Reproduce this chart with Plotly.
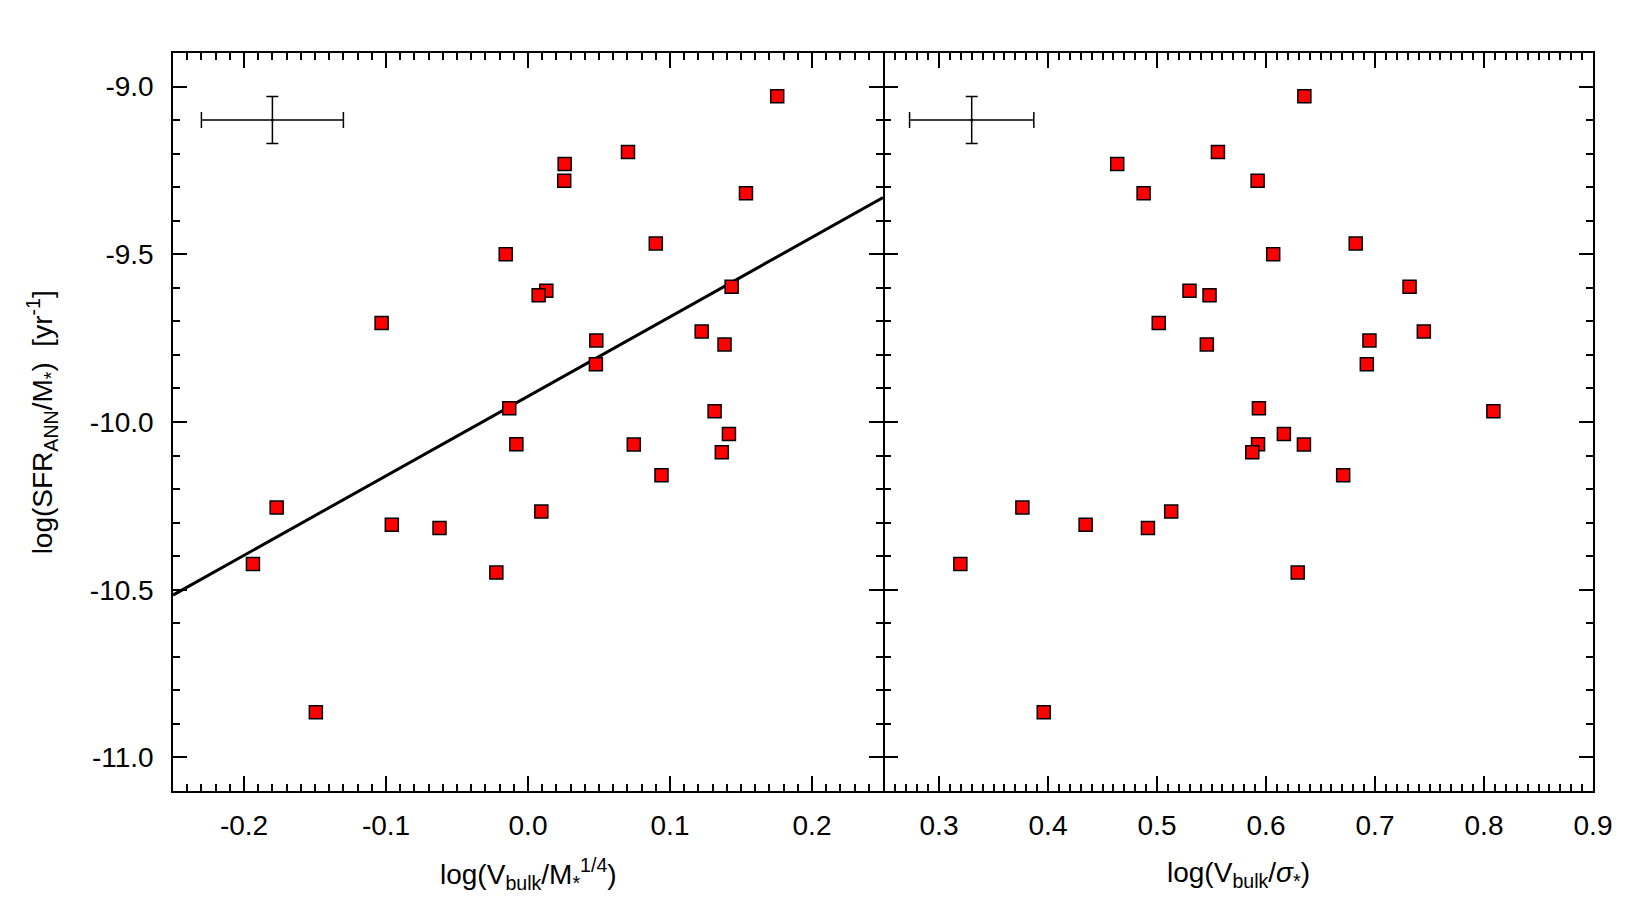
import plotly.graph_objects as go

# ---- data ----
ssfr = [-9.029, -9.195, -9.231, -9.281, -9.318, -9.468, -9.500, -9.609, -9.622, -9.597,
        -9.705, -9.730, -9.757, -9.769, -9.828, -9.959, -9.968, -10.036, -10.066, -10.067,
        -10.090, -10.159, -10.255, -10.267, -10.306, -10.316, -10.423, -10.449, -10.865]
x_mass = [0.1755, 0.0704, 0.0258, 0.0255, 0.1535, 0.0900, -0.0157, 0.0129, 0.0075, 0.1434,
          -0.1031, 0.1223, 0.0481, 0.1384, 0.0478, -0.0132, 0.1314, 0.1415, -0.0082, 0.0745,
          0.1365, 0.0940, -0.1770, 0.0094, -0.0959, -0.0623, -0.1937, -0.0223, -0.1494]
x_sigma = [0.6352, 0.5559, 0.4635, 0.5923, 0.4877, 0.6823, 0.6066, 0.5298, 0.5482, 0.7317,
           0.5016, 0.7448, 0.6949, 0.5457, 0.6925, 0.5935, 0.8086, 0.6164, 0.5927, 0.6348,
           0.5874, 0.6708, 0.3765, 0.5130, 0.4345, 0.4917, 0.3196, 0.6291, 0.3961]

# linear fit in left panel: y = intercept + slope * x
fit_slope = 2.37
fit_intercept = -9.9235
fit_xrange = [-0.25, 0.25]

# typical error bars
err_y_center = [-9.1]
err_x_left = [-0.18]
err_dx_left = [0.05]
err_x_right = [0.33]
err_dx_right = [0.057]
err_dy = [0.07]

y_tickvals = [-9.0, -9.5, -10.0, -10.5, -11.0]
y_ticktext = ["-9.0", "-9.5", "-10.0", "-10.5", "-11.0"]
xl_tickvals = [-0.2, -0.1, 0.0, 0.1, 0.2]
xl_ticktext = ["-0.2", "-0.1", "0.0", "0.1", "0.2"]
xr_tickvals = [0.3, 0.4, 0.5, 0.6, 0.7, 0.8, 0.9]
xr_ticktext = ["0.3", "0.4", "0.5", "0.6", "0.7", "0.8", "0.9"]

FONT = "Liberation Sans, Arial, Helvetica, sans-serif"
FS = 28

fig = go.Figure()

marker = dict(symbol="square", size=13, color="#ff0000", line=dict(color="black", width=1.5))

fit_y = [fit_intercept + fit_slope * v for v in fit_xrange]
fig.add_trace(go.Scatter(x=fit_xrange, y=fit_y, mode="lines",
                         line=dict(color="black", width=3), xaxis="x", yaxis="y",
                         showlegend=False, cliponaxis=True))

fig.add_trace(go.Scatter(x=x_mass, y=ssfr, mode="markers", marker=marker,
                         xaxis="x", yaxis="y", showlegend=False))
fig.add_trace(go.Scatter(x=x_sigma, y=ssfr, mode="markers", marker=marker,
                         xaxis="x2", yaxis="y2", showlegend=False))

for xa, ya, xc, dx in [("x", "y", err_x_left, err_dx_left), ("x2", "y2", err_x_right, err_dx_right)]:
    fig.add_trace(go.Scatter(
        x=xc, y=err_y_center, mode="markers",
        marker=dict(color="black", size=3),
        error_x=dict(type="data", array=dx, color="black", thickness=1.5, width=8),
        error_y=dict(type="data", array=err_dy, color="black", thickness=1.5, width=6),
        xaxis=xa, yaxis=ya, showlegend=False))

axis_common = dict(
    showline=True, linecolor="black", linewidth=1.5,
    mirror="allticks", ticks="inside", tickcolor="black", tickwidth=1.5,
    showgrid=False, zeroline=False,
    tickfont=dict(family=FONT, size=FS, color="black"),
    automargin=False,
)
minor_common = dict(ticklen=7, ticks="inside", tickcolor="black", tickwidth=1.5)

plot_w = 1650 - 165 - 65
gap = 1.5 / plot_w

fig.update_layout(
    width=1650, height=900,
    paper_bgcolor="white", plot_bgcolor="white",
    margin=dict(l=165, r=65, t=45, b=117),
    font=dict(family=FONT, color="black"),
    xaxis=dict(domain=[0, 0.5], range=[-0.25, 0.25], tickvals=xl_tickvals, ticktext=xl_ticktext,
               ticklen=15, minor=dict(dtick=0.01, **minor_common),
               ticklabelstandoff=9, anchor="y", **axis_common),
    xaxis2=dict(domain=[0.5 + gap, 1], range=[0.25, 0.9], tickvals=xr_tickvals, ticktext=xr_ticktext,
                ticklen=15, minor=dict(dtick=0.01, tick0=0.25, **minor_common),
                ticklabelstandoff=9, anchor="y2", **axis_common),
    yaxis=dict(domain=[0, 1], range=[-11.1, -8.9], tickvals=y_tickvals, ticktext=y_ticktext,
               ticklen=14, minor=dict(dtick=0.1, tick0=-11.0, **minor_common),
               ticklabelstandoff=12, anchor="x", **axis_common),
    yaxis2=dict(domain=[0, 1], range=[-11.1, -8.9], tickvals=y_tickvals, showticklabels=False,
                ticklen=14, minor=dict(dtick=0.1, tick0=-11.0, **minor_common),
                anchor="x2", matches="y", **axis_common),
    annotations=[
        dict(text="log(V<sub>bulk</sub>/M<sub>*</sub><sup>1/4</sup>)", xref="paper", yref="paper",
             x=0.25, y=-0.113, xanchor="center", yanchor="middle", showarrow=False,
             font=dict(family=FONT, size=FS, color="black")),
        dict(text="log(V<sub>bulk</sub>/<i>σ</i><sub>*</sub>)", xref="paper", yref="paper",
             x=0.75, y=-0.113, xanchor="center", yanchor="middle", showarrow=False,
             font=dict(family=FONT, size=FS, color="black")),
        dict(text="log(SFR<sub>ANN</sub>/M<sub>*</sub>)  [yr<sup>-1</sup>]", xref="paper", yref="paper",
             x=-0.092, y=0.5, xanchor="center", yanchor="middle", textangle=-90, showarrow=False,
             font=dict(family=FONT, size=FS, color="black")),
    ],
)

fig.write_html("out.html")
